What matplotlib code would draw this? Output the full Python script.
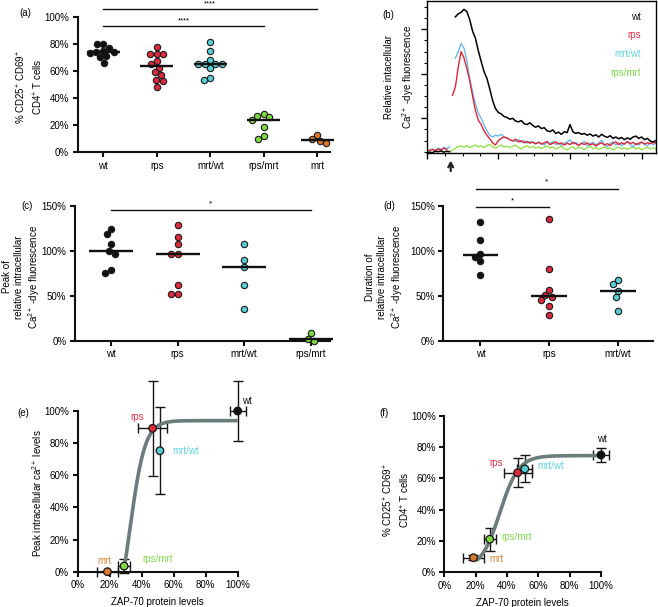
import numpy as np
import matplotlib
matplotlib.use("Agg")
import matplotlib.pyplot as plt

plt.rcParams['font.family'] = ['Liberation Sans', 'DejaVu Sans']
plt.rcParams['font.size'] = 7
plt.rcParams['mathtext.fontset'] = 'custom'
plt.rcParams['mathtext.rm'] = 'Liberation Sans'
plt.rcParams['mathtext.it'] = 'Liberation Sans:italic'
plt.rcParams['mathtext.default'] = 'regular'

# ---------------- data ----------------
groups = ['wt', 'rps', 'mrt/wt', 'rps/mrt', 'mrt']

# (a) % CD25+CD69+ CD4+ T cells
a_wt = [80, 79.5, 77, 75, 74, 74, 73.5, 71, 70, 66]
a_rps = [78, 72.5, 72.5, 72.5, 67, 65, 62.5, 59, 57, 53.5, 52.5, 48]
a_mrtwt = [81.5, 75, 68, 65, 65, 65, 65, 62, 55, 53.5]
a_rpsmrt = [28.5, 27, 26, 24, 18.5, 12, 10]
a_mrt = [12.5, 9.5, 8, 7]

# (b) calcium traces (time grid, arbitrary units)
b_time = np.arange(0, 321, 4)
nan = np.nan
b_wt = [22, 24, 23, 26, 25, 27, 24, 26, 25, nan,
        328, 335, 338, 345, 340, 322, 296, 280, 252, 228,
        205, 190, 166, 140, 122, 113, 110, 104, 102, 98,
        100, 94, 92, 95, 88, 86, 90, 84, 80, 83,
        77, 79, 72, 70, 74, 66, 69, 64, 70, 68,
        86, 70, 66, 68, 64, 66, 62, 65, 60, 63,
        58, 64, 60, 57, 61, 55, 58, 54, 57, 52,
        56, 53, 58, 60, 55, 58, 52, 55, 49, 47, 50]
b_mrtwt = [27, 29, 31, 28, 33, 30, 34, 32, 36, nan,
           235, 250, 268, 258, 230, 190, 160, 132, 112, 100,
           85, 72, 62, 58, 62, 60, 64, 58, 55, 52,
           50, 48, 52, 46, 50, 44, 48, 45, 42, 47,
           44, 40, 46, 43, 48, 41, 45, 39, 44, 47,
           52, 42, 46, 40, 44, 48, 38, 43, 46, 40,
           45, 50, 41, 36, 44, 47, 40, 45, 38, 43,
           48, 41, 36, 44, 40, 46, 42, 38, 45, 41, 44]
b_rps = [26, 28, 30, 27, 31, 29, 33, 30, nan,
         152, 170, 215, 250, 236, 212, 185, 150, 118, 96,
         86, 72, 62, 54, 45, 40, 50, 55, 58, 56,
         52, 49, 53, 47, 50, 45, 48, 44, 47, 43,
         46, 42, 45, 48, 41, 44, 47, 42, 45, 40,
         44, 41, 46, 43, 39, 44, 41, 45, 40, 43,
         38, 42, 45, 40, 43, 39, 44, 47, 41, 45,
         42, 48, 43, 46, 41, 44, 47, 42, 45, 43,
         46, 44]
b_rpsmrt = [nan, nan, nan, nan, nan, nan, nan, nan, 25,
            28, 33, 36, 38, 35, 39, 34, 37, 40, 36,
            38, 34, 39, 41, 36, 33, 37, 40, 35, 38,
            34, 37, 40, 35, 31, 36, 38, 34, 37, 33,
            36, 32, 35, 38, 33, 36, 31, 34, 37, 32,
            29, 34, 36, 31, 35, 33, 30, 34, 37, 32,
            35, 30, 33, 36, 31, 34, 29, 33, 35, 31,
            34, 30, 33, 36, 31, 34, 29, 33, 35, 31,
            34, 30]
b_stim = 33.5

# (c) peak of relative intracellular Ca2+ fluorescence
c_wt = [124, 118.5, 107, 100, 96, 78.5, 75.5]
c_rps = [129, 115.5, 107.5, 96.5, 96.5, 62.5, 52.5, 52.5]
c_mrtwt = [107, 89.5, 81.5, 62, 36]
c_rpsmrt = [8.5, 0, 2]

# (d) duration of relative intracellular Ca2+ fluorescence
d_wt = [131.5, 112.5, 97, 93.5, 88.5, 73.5]
d_rps = [135, 80, 57, 51, 49, 46, 39, 29]
d_mrtwt = [67.5, 63, 55.5, 48.5, 33.5]

# (e)/(f) ZAP-70 protein levels vs readouts: order wt, rps, mrt/wt, rps/mrt, mrt
zap = [100, 46.8, 51.4, 29.0, 18.6]
e_zap_err = [5, 9.2, 0, 3.7, 6.5]
f_zap_err = [5, 9.0, 4.7, 3.7, 6.6]
e_peak = [100, 89.2, 75.3, 3.5, 0]
e_peak_err = [18.5, 29.5, 27.2, 4.2, 0]
f_act = [74.9, 63.6, 66.0, 21.1, 9.3]
f_act_err = [4.3, 9.3, 8.6, 7.5, 1.5]

# fitted sigmoid parameters (bottom, top, midpoint, slope, start)
e_fit = (-40, 94, 32.7, 4.7, 29)
f_fit = (2, 74.5, 35.5, 6.0, 20.7)

# ---------------- style ----------------
col = {'wt': '#111111', 'rps': '#dc2a3c', 'mrt/wt': '#58ccd4',
       'rps/mrt': '#7ed742', 'mrt': '#d9782b'}
txtcol = {'wt': '#111111', 'rps': '#e8334a', 'mrt/wt': '#5ed4e2',
          'rps/mrt': '#7fdc4a', 'mrt': '#e0823a'}
trace_col = {'wt': '#000000', 'rps': '#e02535', 'mrt/wt': '#5ab5ea',
             'rps/mrt': '#8ee03c'}

W, H = 658, 607
fig = plt.figure(figsize=(W / 100, H / 100), dpi=100)


def add_ax(l, r, b, t):
    return fig.add_axes([l / W, 1 - b / H, (r - l) / W, (b - t) / H])


def ftext(px, py, s, **kw):
    fig.text(px / W, 1 - py / H, s, **kw)


def style(ax, lw=1.5):
    for s in ['top', 'right']:
        ax.spines[s].set_visible(False)
    for s in ['left', 'bottom']:
        ax.spines[s].set_linewidth(lw)
        ax.spines[s].set_color('#111111')
    ax.tick_params(direction='out', length=3.6, width=lw, labelsize=7,
                   pad=2.5, color='#111111')


def swarm(vals, xpx, ypx, d):
    vals = np.asarray(vals, float)
    order = np.argsort(-vals, kind='stable')
    placed = []
    offs = np.zeros(len(vals))
    for i in order:
        y = vals[i] * ypx
        cands = [0.0]
        for xj, yj in placed:
            dy = y - yj
            if abs(dy) < d:
                dx = np.sqrt(d * d - dy * dy)
                cands += [xj + dx, xj - dx]
        cands = sorted(cands, key=lambda c: (abs(c), c))
        chosen = cands[-1]
        for c in cands:
            if all((c - xj) ** 2 + (y - yj) ** 2 >= d * d - 1e-6 for xj, yj in placed):
                chosen = c
                break
        placed.append((chosen, y))
        offs[i] = chosen / xpx
    return offs


def dotplot(ax, data, names, xpx, ypx, half, d=6.6, s=21):
    for i, (vals, nm) in enumerate(zip(data, names)):
        offs = swarm(vals, xpx, ypx, d)
        ax.scatter(i + offs, vals, s=s, c=col[nm], edgecolors='#1a1a1a',
                   linewidths=0.8, zorder=3, clip_on=False)
        med = np.median(vals)
        ax.plot([i - half, i + half], [med, med], color='#111111', lw=1.7,
                zorder=4, solid_capstyle='butt', clip_on=False)
    ax.set_xticks(range(len(names)))
    ax.set_xticklabels(names)


def sig(ax, x0, x1, y, ytxt, txt, fs=6):
    ax.plot([x0, x1], [y, y], color='#111111', lw=1.0, clip_on=False)
    ax.text((x0 + x1) / 2, ytxt, txt, ha='center', va='center', fontsize=fs,
            clip_on=False)


# ---------------- (a) ----------------
axa = add_ax(77.7, 330, 152.3, 16.7)
style(axa)
axa.set_xlim(-0.48, 4.24)
axa.set_ylim(0, 100)
dotplot(axa, [a_wt, a_rps, a_mrtwt, a_rpsmrt, a_mrt], groups, 53.5, 1.356, 0.31)
axa.set_yticks([0, 20, 40, 60, 80, 100])
axa.set_yticklabels([f'{v}%' for v in [0, 20, 40, 60, 80, 100]])
sig(axa, 0, 4, 105.7, 109.8, '****', fs=5.5)
sig(axa, 0, 3, 93.1, 97.0, '****', fs=5.5)
ftext(30, 87, '% CD25$^{+}$ CD69$^{+}$\nCD4$^{+}$ T cells', rotation=90,
      ha='center', va='center', multialignment='center', linespacing=1.4)
ftext(25.5, 13, '(a)', ha='center', va='center')

# ---------------- (b) ----------------
axb = add_ax(426.7, 656, 153.3, 1)
for s in axb.spines.values():
    s.set_linewidth(1.0)
axb.set_xlim(0, 320)
axb.set_ylim(21.4, 363.7)
axb.plot(b_time, b_rpsmrt, color=trace_col['rps/mrt'], lw=0.9)
axb.plot(b_time, b_mrtwt, color=trace_col['mrt/wt'], lw=0.9)
axb.plot(b_time, b_rps, color=trace_col['rps'], lw=1.0)
axb.plot(b_time, b_wt, color=trace_col['wt'], lw=1.1)
axb.set_xticks([0, 100, 200, 300])
axb.set_xticks(np.arange(0, 321, 25), minor=True)
axb.set_yticks([100, 200, 300])
axb.set_yticks(np.arange(25, 351, 25), minor=True)
axb.tick_params(which='major', direction='out', length=4.5, width=1.0)
axb.tick_params(which='minor', direction='out', length=2.5, width=0.8)
axb.set_xticklabels([])
axb.set_yticklabels([])
axb.annotate('', xy=(b_stim, -0.03), xycoords=('data', 'axes fraction'),
             xytext=(b_stim, -0.135), textcoords=('data', 'axes fraction'),
             arrowprops=dict(arrowstyle='->,head_length=0.45,head_width=0.25',
                             color='#222222', lw=1.6))
for k, (nm, py) in enumerate(zip(['wt', 'rps', 'mrt/wt', 'rps/mrt'],
                                  [17, 35, 54, 73])):
    ftext(641, py, nm, ha='right', va='center', color=txtcol[nm])
ftext(400, 77, 'Relative intacellular\nCa$^{2+}$ -dye fluorescence', rotation=90,
      ha='center', va='center', multialignment='center', linespacing=1.45)
ftext(388, 15, '(b)', ha='center', va='center')

# ---------------- (c) ----------------
axc = add_ax(75, 330, 341, 205.7)
style(axc)
axc.set_xlim(-0.54, 3.29)
axc.set_ylim(0, 150)
dotplot(axc, [c_wt, c_rps, c_mrtwt, c_rpsmrt], groups[:4], 66.5, 0.904, 0.33)
axc.set_yticks([0, 50, 100, 150])
axc.set_yticklabels([f'{v}%' for v in [0, 50, 100, 150]])
sig(axc, 0, 3, 145, 151.5, '*')
ftext(22, 277, 'Peak of\nrelative intracellular\nCa$^{2+}$ -dye fluorescence',
      rotation=90, ha='center', va='center', multialignment='center',
      linespacing=1.2)
ftext(27, 206, '(c)', ha='center', va='center')

# ---------------- (d) ----------------
axd = add_ax(443.3, 653, 341, 205.7)
style(axd)
axd.set_xlim(-0.54, 2.51)
axd.set_ylim(0, 150)
dotplot(axd, [d_wt, d_rps, d_mrtwt], groups[:3], 69, 0.904, 0.26)
axd.set_yticks([0, 50, 100, 150])
axd.set_yticklabels([f'{v}%' for v in [0, 50, 100, 150]])
sig(axd, -0.07, 2, 169, 176, '*')
sig(axd, -0.07, 1, 148.6, 155.5, '*')
ftext(385, 277, 'Duration of\nrelative intracellular\nCa$^{2+}$ -dye fluorescence',
      rotation=90, ha='center', va='center', multialignment='center',
      linespacing=1.2)
ftext(389, 206, '(d)', ha='center', va='center')


# ---------------- (e)/(f) ----------------
def xyplot(ax, ys, yerr, xerr, fit, labels):
    style(ax)
    ax.set_xlim(0, 100)
    ax.set_ylim(0, 100)
    for x, y, xe, ye in zip(zap, ys, xerr, yerr):
        eb = ax.errorbar(x, y, xerr=xe if xe > 0 else None,
                         yerr=ye if ye > 0 else None, fmt='none',
                         ecolor='#151515', elinewidth=1.0, capsize=3.3,
                         capthick=1.0, zorder=2)
        for art in list(eb.lines[1]) + list(eb.lines[2]):
            art.set_clip_on(False)
    b, t, x0, s, xs = fit
    xx = np.linspace(xs, 100, 300)
    yy = b + (t - b) / (1 + np.exp(-(xx - x0) / s))
    ax.plot(xx, yy, color='#6b7c7c', lw=2.6, zorder=3, solid_capstyle='butt',
            clip_on=False)
    ax.scatter(zap, ys, s=30, c=[col[g] for g in groups], edgecolors='#151515',
               linewidths=0.9, zorder=4, clip_on=False)
    ticks = [0, 20, 40, 60, 80, 100]
    ax.set_xticks(ticks)
    ax.set_xticklabels([f'{v}%' for v in ticks])
    ax.set_yticks(ticks)
    ax.set_yticklabels([f'{v}%' for v in ticks])
    for nm, (lx, ly) in labels.items():
        ax.text(lx, ly, nm, color=txtcol[nm], ha='center', va='center',
                clip_on=False)
    ax.set_xlabel('ZAP-70 protein levels', labelpad=5)


axe = add_ax(77.7, 237.7, 571.7, 411)
xyplot(axe, e_peak, e_peak_err, e_zap_err, e_fit,
       {'wt': (105.6, 106.4), 'rps': (37.3, 96), 'mrt/wt': (67.7, 75.1),
        'rps/mrt': (50, 7.9), 'mrt': (17, 6.5)})
ftext(36.7, 493, 'Peak intracellular ca$^{2+}$ levels', rotation=90,
      ha='center', va='center')
ftext(23.3, 413, '(e)', ha='center', va='center')

axf = add_ax(444.3, 601, 572.3, 415.7)
xyplot(axf, f_act, f_act_err, f_zap_err, f_fit,
       {'wt': (100.4, 84.9), 'rps': (32.8, 69.6), 'mrt/wt': (68.1, 68.1),
        'rps/mrt': (46.2, 22.3), 'mrt': (33.4, 8.5)})
ftext(396.7, 500, '% CD25$^{+}$ CD69$^{+}$\nCD4$^{+}$ T cells', rotation=90,
      ha='center', va='center', multialignment='center', linespacing=1.4)
ftext(384.3, 413, '(f)', ha='center', va='center')

fig.savefig('out.png', dpi=100)
